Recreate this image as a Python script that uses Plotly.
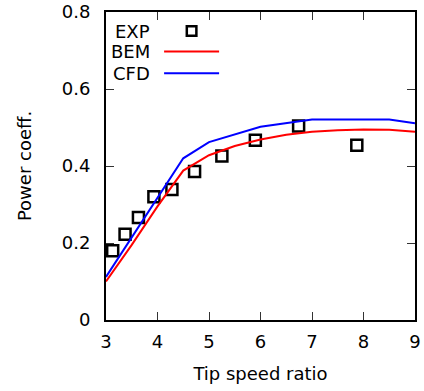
import plotly.graph_objects as go

exp_tsr = [3.13, 3.37, 3.63, 3.93, 4.28, 4.72, 5.25, 5.90, 6.74, 7.87]
exp_cp = [0.180, 0.223, 0.266, 0.320, 0.339, 0.386, 0.426, 0.467, 0.504, 0.454]

bem_tsr = [3.0, 3.5, 4.0, 4.5, 5.0, 5.5, 6.0, 6.5, 7.0, 7.5, 8.0, 8.5, 9.0]
bem_cp = [0.100, 0.195, 0.295, 0.388, 0.428, 0.452, 0.469, 0.481, 0.489, 0.493, 0.495, 0.494, 0.489]

cfd_tsr = [3.0, 4.5, 5.0, 6.0, 7.0, 8.5, 9.0]
cfd_cp = [0.112, 0.420, 0.462, 0.502, 0.521, 0.521, 0.511]

x_ticks = [3, 4, 5, 6, 7, 8, 9]
y_ticks = [0, 0.2, 0.4, 0.6, 0.8]

FONT = "DejaVu Sans"
FS = 18

fig = go.Figure()
fig.add_trace(go.Scatter(x=exp_tsr, y=exp_cp, mode="markers", name="EXP",
                         marker=dict(symbol="square-open", size=11, color="black",
                                     line=dict(width=2.5, color="black")),
                         showlegend=False))
fig.add_trace(go.Scatter(x=bem_tsr, y=bem_cp, mode="lines", name="BEM",
                         line=dict(color="#ff0000", width=2), showlegend=False))
fig.add_trace(go.Scatter(x=cfd_tsr, y=cfd_cp, mode="lines", name="CFD",
                         line=dict(color="#0000ff", width=2), showlegend=False))

# gnuplot-style legend: text on the left, key on the right
legend_items = [("EXP", "marker", "black"), ("BEM", "line", "#ff0000"), ("CFD", "line", "#0000ff")]
row_y = [0.938, 0.872, 0.801]
for (label, kind, col), yy in zip(legend_items, row_y):
    fig.add_annotation(x=0.148, y=yy, xref="paper", yref="paper", text=label,
                       showarrow=False, xanchor="right", yanchor="middle",
                       font=dict(family=FONT, size=FS, color="black"))
    if kind == "line":
        fig.add_shape(type="line", xref="paper", yref="paper",
                      x0=0.188, x1=0.366, y0=yy, y1=yy,
                      line=dict(color=col, width=2))
    else:
        fig.add_shape(type="rect", xref="paper", yref="paper",
                      x0=0.277 - 0.0155, x1=0.277 + 0.0155, y0=yy - 0.0155, y1=yy + 0.0155,
                      line=dict(color="black", width=2.5))

axis_common = dict(showline=True, linecolor="black", linewidth=2, mirror="ticks",
                   ticks="inside", ticklen=8, tickwidth=1, tickcolor="#333333",
                   showgrid=False, zeroline=False, automargin=False,
                   tickfont=dict(family=FONT, size=FS, color="black"))

fig.update_layout(
    width=424, height=391,
    margin=dict(l=106, r=9, t=12, b=71),
    paper_bgcolor="white", plot_bgcolor="white",
    font=dict(family=FONT, size=FS, color="black"),
    xaxis=dict(range=[3, 9], tickvals=x_ticks, ticktext=[str(v) for v in x_ticks],
               title=dict(text="Tip speed ratio", font=dict(family=FONT, size=FS), standoff=17),
               ticklabelstandoff=4, **axis_common),
    yaxis=dict(range=[0, 0.8], tickvals=y_ticks, ticktext=["0", "0.2", "0.4", "0.6", "0.8"],
               title=dict(text="Power coeff.", font=dict(family=FONT, size=FS), standoff=25),
               ticklabelstandoff=10, **axis_common),
)

fig.write_html("out.html")
